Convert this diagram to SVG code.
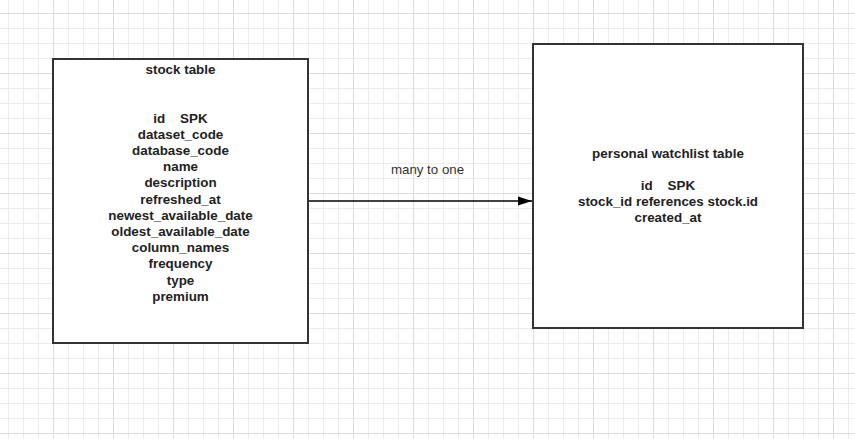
<svg xmlns="http://www.w3.org/2000/svg" width="855" height="439" viewBox="0 0 855 439">
<defs>
<pattern id="minor" width="15" height="15" patternUnits="userSpaceOnUse" x="8" y="13">
<path d="M0 0.5H15M0.5 0V15" fill="none" stroke="#ececec" stroke-width="1"/>
</pattern>
<pattern id="major" width="60" height="60" patternUnits="userSpaceOnUse" x="53" y="13">
<path d="M0 0.5H60M0.5 0V60" fill="none" stroke="#dcdcdc" stroke-width="1"/>
</pattern>
<marker id="arrow" markerWidth="16" markerHeight="12" refX="14" refY="6" orient="auto" markerUnits="userSpaceOnUse">
<path d="M0 1.5L14 6L0 10.5Z" fill="#000"/>
</marker>
</defs>
<style>
.box{fill:#fff;stroke:#333;stroke-width:2}
.t{font-family:"Liberation Sans",Arial,sans-serif;font-size:13.4px;font-weight:bold;fill:#222;text-anchor:middle;white-space:pre}
.lbl{font-family:"Liberation Sans",Arial,sans-serif;font-size:13.3px;fill:#333;text-anchor:middle}
</style>
<rect width="855" height="439" fill="#fff"/>
<rect width="855" height="439" fill="url(#minor)"/>
<rect width="855" height="439" fill="url(#major)"/>
<g id="connectors">
<line x1="309" y1="201" x2="532" y2="201" stroke="#000" stroke-width="1.3" marker-end="url(#arrow)"/>
<text class="lbl" x="427.5" y="174">many to one</text>
</g>
<g id="stock-table">
<rect class="box" x="53" y="59" width="255" height="284"/>
<text class="t" x="180.5" y="74">stock table</text>
<text class="t" x="180.5" y="122.6" xml:space="preserve">id    SPK</text>
<text class="t" x="180.5" y="138.8">dataset_code</text>
<text class="t" x="180.5" y="155">database_code</text>
<text class="t" x="180.5" y="171.2">name</text>
<text class="t" x="180.5" y="187.4">description</text>
<text class="t" x="180.5" y="203.6">refreshed_at</text>
<text class="t" x="180.5" y="219.8">newest_available_date</text>
<text class="t" x="180.5" y="236">oldest_available_date</text>
<text class="t" x="180.5" y="252.2">column_names</text>
<text class="t" x="180.5" y="268.4">frequency</text>
<text class="t" x="180.5" y="284.6">type</text>
<text class="t" x="180.5" y="300.8">premium</text>
</g>
<g id="watchlist-table">
<rect class="box" x="533" y="44" width="270" height="284"/>
<text class="t" x="668" y="157.6">personal watchlist table</text>
<text class="t" x="668" y="190" xml:space="preserve">id    SPK</text>
<text class="t" x="668" y="206.2">stock_id references stock.id</text>
<text class="t" x="668" y="222.4">created_at</text>
</g>
</svg>
